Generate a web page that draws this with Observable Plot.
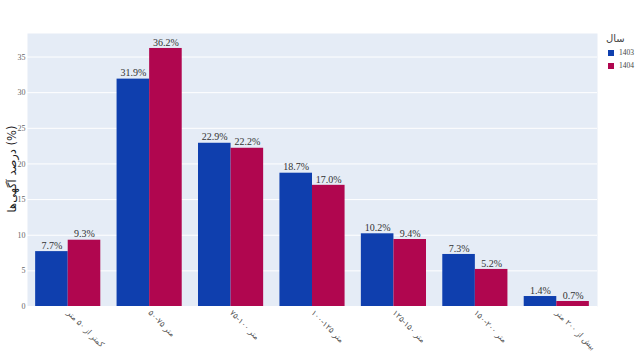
<!DOCTYPE html>
<html>
<head>
<meta charset="utf-8">
<script src="https://cdn.jsdelivr.net/npm/d3@7"></script>
<script src="https://cdn.jsdelivr.net/npm/@observablehq/plot@0.6"></script>
<style>
  html, body { margin: 0; padding: 0; background: #fff; }
  #wrap { position: relative; width: 640px; height: 360px; }
  #base, #bars { position: absolute; left: 0; top: 0; }
  #legend { position: absolute; left: 606px; top: 33px; font-family: "DejaVu Sans", sans-serif; color: #444; }
  #legend .title { font-size: 10px; margin-bottom: 3px; }
  #legend .item { font-size: 7.5px; display: flex; align-items: center; margin: 4px 0 0 2px; font-family: "Liberation Serif", serif; }
  #legend .sw { width: 6px; height: 6px; margin-right: 5px; }
</style>
</head>
<body>
<div id="wrap"><div id="base"></div><div id="bars"></div><div id="legend"></div></div>
<script>
const categories = ["کمتر از ۵۰ متر", "۵۰-۷۵ متر", "۷۵-۱۰۰ متر", "۱۰۰-۱۲۵ متر", "۱۲۵-۱۵۰ متر", "۱۵۰-۲۰۰ متر", "بیش از ۲۰۰ متر"];
const years = ["1403", "1404"];
const values1403 = [7.7, 31.9, 22.9, 18.7, 10.2, 7.3, 1.4];
const values1404 = [9.3, 36.2, 22.2, 17.0, 9.4, 5.2, 0.7];
const yTicks = [0, 5, 10, 15, 20, 25, 30, 35];
const colors = ["#0f3fae", "#b0064f"];
const legendTitle = "سال";
const yLabel = "درصد آگهی‌ها (%)";

const data = [];
categories.forEach((c, i) => {
  data.push({cat: c, year: years[0], value: values1403[i]});
  data.push({cat: c, year: years[1], value: values1404[i]});
});

const layout = {
  width: 600,
  height: 360,
  marginTop: 33,
  marginBottom: 54,
  marginLeft: 27,
  marginRight: 3
};

// Base layer: background, grid, axes
const base = Plot.plot({
  ...layout,
  style: {fontFamily: "Liberation Serif, serif", fontSize: "8px", color: "#555", background: "transparent"},
  x: {domain: categories, paddingInner: 0.2, paddingOuter: 0.1, round: false, label: null},
  y: {domain: [0, 38.3], label: null},
  marks: [
    Plot.frame({fill: "#e5ecf6", stroke: null}),
    Plot.gridY(yTicks, {stroke: "#fff", strokeOpacity: 1, strokeWidth: 1}),
    Plot.axisY(yTicks, {tickSize: 0, tickPadding: 2, label: null, fill: "#666"}),
    Plot.axisX({tickSize: 0, tickPadding: 5, tickRotate: 45, label: null, fontFamily: "DejaVu Sans, sans-serif", fontSize: 8, fill: "#555"})
  ]
});
document.getElementById("base").appendChild(base);

// Bars layer: grouped bars via fx facets
const bars = Plot.plot({
  ...layout,
  style: {fontFamily: "Liberation Serif, serif", fontSize: "8px", color: "#555", background: "transparent"},
  fx: {domain: categories, paddingInner: 0.2, paddingOuter: 0.1, round: false, label: null, axis: null},
  x: {domain: years, axis: null, padding: 0, round: false},
  y: {domain: [0, 38.3], axis: null},
  color: {domain: years, range: colors},
  marks: [
    Plot.barY(data, {fx: "cat", x: "year", y: "value", fill: "year"}),
    Plot.text(data, {fx: "cat", x: "year", y: "value", text: d => d.value.toFixed(1) + "%", dy: -6, fontSize: 10, fill: "#333", fontFamily: "Liberation Serif, serif"})
  ]
});
document.getElementById("bars").appendChild(bars);

// y-axis title
d3.select(base).append("text")
  .attr("transform", "translate(16,169) rotate(-90)")
  .attr("text-anchor", "middle")
  .attr("font-family", "DejaVu Sans, sans-serif")
  .attr("font-size", 11.5)
  .attr("fill", "#222")
  .text(yLabel);

// legend
const lg = d3.select("#legend");
lg.append("div").attr("class", "title").text(legendTitle);
years.forEach((y, i) => {
  const it = lg.append("div").attr("class", "item");
  it.append("div").attr("class", "sw").style("background", colors[i]);
  it.append("span").text(y);
});
</script>
</body>
</html>
